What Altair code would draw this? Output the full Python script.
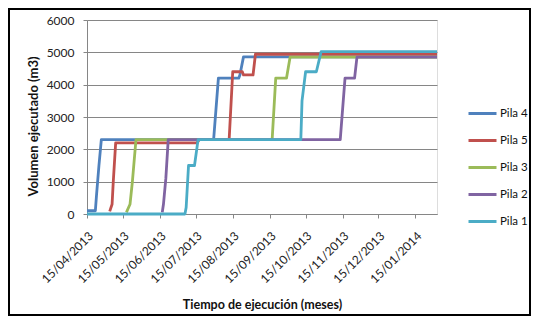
import altair as alt
import pandas as pd

series_names = ["Pila 4", "Pila 5", "Pila 3", "Pila 2", "Pila 1"]
series_colors = ["#4F81BD", "#C0504D", "#9BBB59", "#8064A2", "#4BACC6"]

pila4_dates = ["2013-04-15", "2013-04-22", "2013-04-23", "2013-04-25", "2013-04-27",
               "2013-07-30", "2013-08-03", "2013-08-20", "2013-08-21", "2013-08-24", "2014-02-02"]
pila4_vals = [100, 100, 600, 1500, 2300, 2300, 4200, 4200, 4300, 4860, 4860]

pila5_dates = ["2013-05-04", "2013-05-06", "2013-05-07", "2013-05-09", "2013-07-16", "2013-07-18",
               "2013-08-12", "2013-08-15", "2013-08-23", "2013-08-24", "2013-09-01", "2013-09-03", "2014-02-02"]
pila5_vals = [80, 300, 1000, 2200, 2200, 2300, 2300, 4400, 4400, 4300, 4300, 4940, 4940]

pila3_dates = ["2013-05-18", "2013-05-21", "2013-05-23", "2013-05-26", "2013-09-17", "2013-09-20",
               "2013-09-29", "2013-10-02", "2014-02-02"]
pila3_vals = [50, 300, 1000, 2300, 2300, 4200, 4200, 4850, 4850]

pila2_dates = ["2013-06-17", "2013-06-18", "2013-06-20", "2013-06-22", "2013-11-13", "2013-11-17",
               "2013-11-25", "2013-11-27", "2014-02-02"]
pila2_vals = [50, 300, 1100, 2300, 2300, 4200, 4200, 4850, 4850]

pila1_dates = ["2013-04-15", "2013-07-06", "2013-07-07", "2013-07-09", "2013-07-14", "2013-07-17",
               "2013-10-11", "2013-10-12", "2013-10-15", "2013-10-24", "2013-10-28", "2014-02-02"]
pila1_vals = [0, 0, 200, 1500, 1500, 2300, 2300, 3500, 4400, 4400, 5020, 5020]

y_ticks = [0, 1000, 2000, 3000, 4000, 5000, 6000]
x_tick_months = [(2013, 4), (2013, 5), (2013, 6), (2013, 7), (2013, 8), (2013, 9),
                 (2013, 10), (2013, 11), (2013, 12), (2014, 1)]

rows = []
for name, ds, vs in [("Pila 4", pila4_dates, pila4_vals), ("Pila 5", pila5_dates, pila5_vals),
                     ("Pila 3", pila3_dates, pila3_vals), ("Pila 2", pila2_dates, pila2_vals),
                     ("Pila 1", pila1_dates, pila1_vals)]:
    for i, (d, v) in enumerate(zip(ds, vs)):
        rows.append({"serie": name, "fecha": d, "volumen": v, "idx": i})
df = pd.DataFrame(rows)

FONT = "Lato"
x_values = [alt.DateTime(year=y, month=m, date=15, utc=True) for y, m in x_tick_months]

lines = alt.Chart(df).mark_line(strokeWidth=2.8, strokeJoin="round").encode(
    x=alt.X("fecha:T",
            scale=alt.Scale(type="utc",
                            domain=[alt.DateTime(year=2013, month=4, date=15, utc=True),
                                    alt.DateTime(year=2014, month=2, date=2, utc=True)],
                            nice=False),
            axis=alt.Axis(values=x_values, labelExpr="utcFormat(datum.value, '%d/%m/%Y')",
                          labelOverlap=False, labelBound=False,
                          labelAngle=-45, labelPadding=12, tickSize=4, grid=False,
                          domainColor="#868686", tickColor="#868686",
                          title="Tiempo de ejecución (meses)", titleY=90,
                          titleBaseline="middle", labelFont=FONT, labelFontSize=12,
                          labelColor="#222222", titleFont=FONT, titleFontSize=12.5,
                          titleFontWeight="bold", titleColor="#111111")),
    y=alt.Y("volumen:Q",
            scale=alt.Scale(domain=[0, 6000], nice=False),
            axis=alt.Axis(values=y_ticks, format="d", tickSize=4, labelPadding=9,
                          grid=True, gridColor="#868686", gridWidth=1,
                          domainColor="#868686", tickColor="#868686",
                          title="Volumen ejecutado (m3)", titleX=-54, titleY=106,
                          titleAngle=-90, titleBaseline="middle", titleAlign="center",
                          labelFont=FONT, labelFontSize=12, labelColor="#222222",
                          titleFont=FONT, titleFontSize=13, titleFontWeight="bold",
                          titleColor="#111111")),
    color=alt.Color("serie:N",
                    scale=alt.Scale(domain=series_names, range=series_colors),
                    legend=alt.Legend(title=None, orient="none", legendX=380, legendY=78,
                                      symbolType="stroke", symbolSize=784,
                                      symbolStrokeWidth=3, rowPadding=5,
                                      labelOffset=2, labelFont=FONT, labelFontSize=11.5,
                                      labelColor="#111111", padding=0)),
    order=alt.Order("idx:Q"),
    detail="serie:N",
)

frame = alt.Chart(pd.DataFrame({"a": [0]})).mark_rect(
    filled=False, stroke="black", strokeWidth=2
).encode(x=alt.value(-78), x2=alt.value(443), y=alt.value(-11), y2=alt.value(295))

chart = alt.layer(frame, lines).properties(
    width=350, height=194,
    padding={"left": 79, "top": 12, "right": 94, "bottom": 103},
    autosize=alt.AutoSizeParams(type="none"),
).configure_view(stroke=None).configure(background="white")

chart.save("out.html", embed_options={"renderer": "svg", "actions": False})
